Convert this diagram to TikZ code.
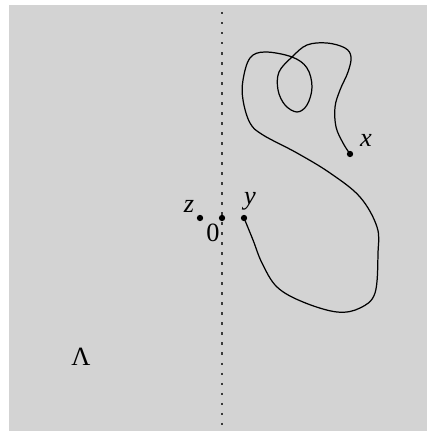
\documentclass[tikz,border=0pt]{standalone}
\usepackage{fontspec}
\setmainfont{Liberation Serif}
\usepackage{xcolor}
\usetikzlibrary{positioning}
\definecolor{Shade}{HTML}{D3D3D3}
\definecolor{Ink}{HTML}{000000}
\definecolor{Axis}{HTML}{3A3A3A}
\tikzset{
  pt/.style={circle,fill=Ink,inner sep=0pt,minimum size=3.6pt},
  lbl/.style={font=\fontsize{15}{17}\selectfont\itshape,text=Ink,inner sep=1pt},
  uplbl/.style={font=\fontsize{15}{17}\selectfont,text=Ink,inner sep=1pt},
  axisline/.style={draw=Axis,line width=0.7pt,dash pattern=on 1.4pt off 4.3pt},
  path/.style={draw=Ink,line width=0.7pt}
}

\begin{document}
\begin{tikzpicture}[x=0.02cm,y=-0.02cm]
  \useasboundingbox (0,0) rectangle (427,431);
  \fill[Shade] (9,5) rectangle (427,431);
  \coordinate (top) at (222,12);
  \coordinate (bot) at (222,431);
  \draw[axisline] (top) -- (bot);
  \node[pt] (porigin) at (222,218) {};
  \node[pt] (pz) at (200,218) {};
  \node[pt] (py) at (244,218) {};
  \node[pt] (px) at (350,154) {};
  \node[lbl] (lz) at (189,206) {z};
  \node[uplbl] (lo) at (213,233) {0};
  \node[lbl] (ly) at (250,201) {y};
  \node[lbl] (lx) at (366,140) {x};
  \node[uplbl] (lam) at (81,357) {Λ};
  \draw[path] plot[smooth,tension=0.6] coordinates {(px) (343,143) (336,127) (335,107)
    (340,90) (348,72) (351,57) (345,48) (327,43) (307,45) (292,57) (279,72) (278,90)
    (285,105) (297,112) (307,105) (312,87) (307,68) (292,57) (265,52) (250,58)
    (243,80) (243,100) (250,123) (263,135) (297,153) (330,173) (360,197) (377,227)
    (378,253) (375,293) (360,308) (337,312) (303,302) (277,287) (262,263) (253,240) (py)};
\end{tikzpicture}
\end{document}
